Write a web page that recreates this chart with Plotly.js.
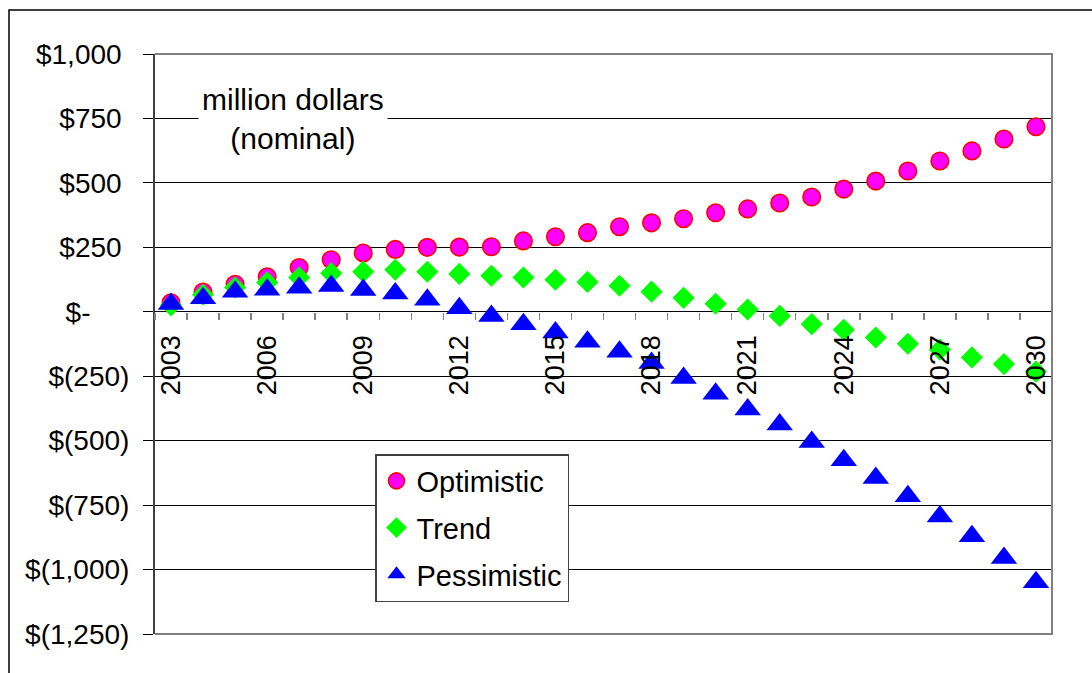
<!DOCTYPE html>
<html>
<head>
<meta charset="utf-8">
<script src="https://cdn.plot.ly/plotly-3.0.1.min.js"></script>
<style>
  html, body { margin: 0; padding: 0; background: #ffffff; }
  #chart { width: 1092px; height: 673px; }
</style>
</head>
<body>
<div id="chart"></div>
<script>
// ---- Data ----
const years = [2003, 2004, 2005, 2006, 2007, 2008, 2009, 2010, 2011, 2012,
               2013, 2014, 2015, 2016, 2017, 2018, 2019, 2020, 2021, 2022,
               2023, 2024, 2025, 2026, 2027, 2028, 2029, 2030];

const optimistic = [35, 77, 107, 136, 172, 202, 228, 242, 250, 251,
                    252, 275, 291, 307, 330, 345, 361, 384, 399, 422,
                    445, 476, 507, 546, 585, 624, 670, 718];

const trend = [25, 66, 94, 114, 133, 149, 155, 163, 155, 147,
               140, 133, 124, 116, 101, 78, 54, 31, 9, -16,
               -48, -70, -100, -124, -147, -177, -203, -232];

const pessimistic = [30, 52, 78, 85, 93, 100, 84, 71, 47, 14,
                     -16, -48, -80, -116, -155, -199, -257, -318, -379, -437,
                     -505, -576, -645, -716, -794, -871, -955, -1049];

const seriesNames = ["Optimistic", "Trend", "Pessimistic"];

const yTickValues = [1000, 750, 500, 250, 0, -250, -500, -750, -1000, -1250];
const yTickLabels = ["$1,000", "$750", "$500", "$250", "$-", "$(250)",
                     "$(500)", "$(750)", "$(1,000)", "$(1,250)"];

const xTickYears = [2003, 2006, 2009, 2012, 2015, 2018, 2021, 2024, 2027, 2030];

const noteText = "million dollars<br>(nominal)";

// ---- Accounting-style alignment of the value labels ----
const NB = "\u00a0";
const yTickText = yTickLabels.map(function (s) {
  if (s.endsWith(")")) return s;
  if (s === "$-") return s + NB.repeat(5);
  return s + NB;
});

const FONT = "Liberation Sans, Arial, Helvetica, sans-serif";

const traces = [
  {
    x: years, y: optimistic, name: seriesNames[0], legendgroup: "a",
    type: "scatter", mode: "markers",
    marker: { symbol: "circle", size: 17.5, color: "#ff00ff",
              line: { color: "#ff0000", width: 1.6 } }
  },
  {
    x: years, y: trend, name: seriesNames[1], legendgroup: "b",
    type: "scatter", mode: "markers",
    marker: { symbol: "diamond", size: 17, color: "#00ff00",
              line: { width: 0 } }
  },
  {
    x: years, y: pessimistic, name: seriesNames[2], legendgroup: "c",
    type: "scatter", mode: "markers",
    marker: { symbol: "triangle-up", size: 23, color: "#0000ff",
              line: { width: 0 } }
  }
];

// paper-coordinate helpers for the frame
const W = 1092, H = 673, ML = 155, MR = 40, MT = 54, MB = 39;
const PW = W - ML - MR, PH = H - MT - MB;
function px(x) { return (x - ML) / PW; }
function py(y) { return (H - MB - y) / PH; }

const layout = {
  width: W, height: H,
  margin: { l: ML, r: MR, t: MT, b: MB, pad: 0 },
  paper_bgcolor: "#ffffff",
  plot_bgcolor: "#ffffff",
  font: { family: FONT, color: "#000000", size: 28 },
  showlegend: true,
  xaxis: {
    type: "linear",
    range: [2002.5, 2030.5],
    anchor: "free",
    position: 1250 / 2250,
    showline: false, showgrid: false, zeroline: false,
    tickmode: "array",
    tickvals: xTickYears,
    ticktext: xTickYears.map(String),
    tickangle: -90,
    ticks: "",
    ticklabelstandoff: 17,
    tickfont: { family: FONT, size: 27, color: "#000000" },
    minor: {
      tickmode: "linear", tick0: 2002.5, dtick: 1,
      ticks: "outside", ticklen: 7, tickwidth: 1.5, tickcolor: "#808080",
      showgrid: false
    },
    fixedrange: true,
    automargin: false
  },
  yaxis: {
    range: [-1250, 1000],
    tickmode: "array",
    tickvals: yTickValues,
    ticktext: yTickText,
    ticks: "outside", ticklen: 10, tickwidth: 1, tickcolor: "#000000",
    ticklabelstandoff: 8,
    showline: true, linecolor: "#404040", linewidth: 2,
    showgrid: true, gridcolor: "#000000", gridwidth: 1,
    zeroline: true, zerolinecolor: "#000000", zerolinewidth: 1,
    tickfont: { family: FONT, size: 28, color: "#000000" },
    fixedrange: true,
    automargin: false
  },
  legend: {
    x: px(375), y: py(454), xanchor: "left", yanchor: "top",
    bgcolor: "#ffffff", bordercolor: "#404040", borderwidth: 1.5,
    font: { family: FONT, size: 29, color: "#000000" },
    tracegroupgap: 6
  },
  annotations: [
    {
      text: noteText, xref: "paper", yref: "paper",
      x: px(292.5), y: py(119), xanchor: "center", yanchor: "middle",
      showarrow: false, align: "center",
      font: { family: FONT, size: 30, color: "#000000" },
      bgcolor: "#ffffff", borderpad: 3
    }
  ],
  shapes: [
    {
      type: "path", xref: "paper", yref: "paper",
      path: "M0,1 L1,1 L1,0 L0,0",
      line: { color: "#808080", width: 2 }, layer: "above"
    },
    {
      type: "path", xref: "paper", yref: "paper",
      path: "M" + px(9) + "," + py(690) + " L" + px(9) + "," + py(10) +
            " L" + px(1100) + "," + py(10),
      line: { color: "#000000", width: 1.5 }, layer: "above"
    }
  ]
};

Plotly.newPlot("chart", traces, layout, { displayModeBar: false, staticPlot: true });
</script>
</body>
</html>
